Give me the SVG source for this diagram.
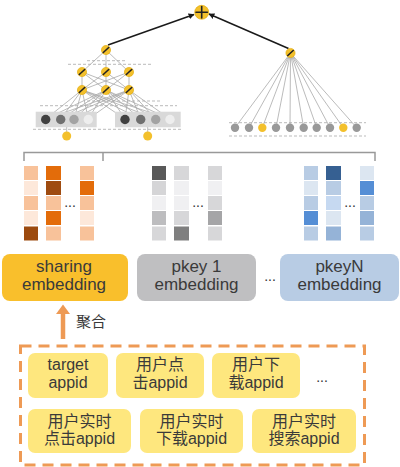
<svg xmlns="http://www.w3.org/2000/svg" width="400" height="467" viewBox="0 0 400 467">
<defs>
<marker id="ah" viewBox="0 0 10 10" refX="9" refY="5" markerWidth="6" markerHeight="6" orient="auto" markerUnits="userSpaceOnUse">
<path d="M0,0 L10,5 L0,10 z" fill="#1a1a1a"/>
</marker>
<style>
.wire{stroke:#aaaaaa;stroke-width:0.8;fill:none}
.dash{stroke:#bbbbbb;stroke-width:1;stroke-dasharray:3 2;fill:none}
.neu{fill:#f3c02c;stroke:#e0a800;stroke-width:0.6}
.sym{stroke:#222;stroke-width:1.6;stroke-linecap:round}
.lbl{font-family:"Liberation Sans","Noto Sans CJK SC",sans-serif;fill:#3a3a3a;text-anchor:middle}
.emb{font-size:17px}
.app{font-size:16px}
.ab{fill:#fee77e}
.dots{font-family:"Liberation Sans",sans-serif;font-size:14px;fill:#333;text-anchor:middle}
</style>
</defs>
<rect width="400" height="467" fill="#ffffff"/>

<g id="connectors">
<line x1="108" y1="45" x2="194" y2="14.5" stroke="#1a1a1a" stroke-width="1.5" marker-end="url(#ah)"/>
<line x1="288.5" y1="48.5" x2="209" y2="14" stroke="#1a1a1a" stroke-width="1.5" marker-end="url(#ah)"/>
<polyline points="24,161 24,152.5 375,152.5 375,161" stroke="#999" stroke-width="1.5" fill="none"/>
<line x1="103" y1="152.5" x2="103" y2="161" stroke="#999" stroke-width="1.5"/>
<line x1="63" y1="339" x2="63" y2="312" stroke="#ee9a55" stroke-width="4.5"/>
<path d="M56,314 L70,314 L63,304.5 z" fill="#ee9a55"/>
</g>

<g id="plus-node">
<circle cx="201.7" cy="12.3" r="7" class="neu"/>
<line x1="196" y1="12.3" x2="207.4" y2="12.3" class="sym"/>
<line x1="201.7" y1="6.6" x2="201.7" y2="18" class="sym"/>
</g>

<g id="dnn-tower">
<line class="dash" x1="87" y1="60.7" x2="127" y2="60.7"/>
<line class="dash" x1="68" y1="64.3" x2="153" y2="64.3"/>
<line class="dash" x1="87" y1="101" x2="160" y2="101"/>
<line class="dash" x1="40" y1="105.7" x2="177" y2="105.7"/>
<line class="dash" x1="33" y1="129.3" x2="182" y2="129.3"/>
<g class="wire">
<path d="M106,50 L82,72 M106,50 L106,72 M106,50 L129,72"/>
<path d="M82,72 L82,90 M82,72 L106,90 M82,72 L129,90 M106,72 L82,90 M106,72 L106,90 M106,72 L129,90 M129,72 L82,90 M129,72 L106,90 M129,72 L129,90"/>
<path d="M82,90 L45.7,119 M82,90 L60.7,119 M82,90 L74,119 M82,90 L88.3,119 M82,90 L125,119 M82,90 L140.7,119 M82,90 L155.7,119 M82,90 L170,119"/>
<path d="M106,90 L45.7,119 M106,90 L60.7,119 M106,90 L74,119 M106,90 L88.3,119 M106,90 L125,119 M106,90 L140.7,119 M106,90 L155.7,119 M106,90 L170,119"/>
<path d="M129,90 L45.7,119 M129,90 L60.7,119 M129,90 L74,119 M129,90 L88.3,119 M129,90 L125,119 M129,90 L140.7,119 M129,90 L155.7,119 M129,90 L170,119"/>
<path d="M66.7,127 L66.7,136 M147.7,127 L147.7,136"/>
</g>
<rect x="35.7" y="111.7" width="61" height="15.6" fill="#d9d9d9"/>
<rect x="115" y="111.7" width="65.7" height="15.6" fill="#d9d9d9"/>
<circle cx="45.7" cy="119.5" r="4.7" fill="#404040"/>
<circle cx="60.7" cy="119.5" r="4.7" fill="#6f6f6f"/>
<circle cx="74" cy="119.5" r="4.7" fill="#a3a3a3"/>
<circle cx="88.3" cy="119.5" r="4.7" fill="#eeeeee"/>
<circle cx="125" cy="119.5" r="4.7" fill="#404040"/>
<circle cx="140.7" cy="119.5" r="4.7" fill="#6f6f6f"/>
<circle cx="155.7" cy="119.5" r="4.7" fill="#a3a3a3"/>
<circle cx="170" cy="119.5" r="4.7" fill="#eeeeee"/>
<circle cx="66.7" cy="136" r="4.5" fill="#f3c02c"/>
<circle cx="147.7" cy="136" r="4.5" fill="#f3c02c"/>
<g>
<circle cx="106" cy="50" r="4.6" class="neu"/><line x1="103.3" y1="52.5" x2="108.7" y2="47.5" class="sym"/>
<circle cx="82" cy="72" r="4.6" class="neu"/><line x1="79.3" y1="74.5" x2="84.7" y2="69.5" class="sym"/>
<circle cx="106" cy="72" r="4.6" class="neu"/><line x1="103.3" y1="74.5" x2="108.7" y2="69.5" class="sym"/>
<circle cx="129" cy="72" r="4.6" class="neu"/><line x1="126.3" y1="74.5" x2="131.7" y2="69.5" class="sym"/>
<circle cx="82" cy="90" r="4.6" class="neu"/><line x1="79.3" y1="92.5" x2="84.7" y2="87.5" class="sym"/>
<circle cx="106" cy="90" r="4.6" class="neu"/><line x1="103.3" y1="92.5" x2="108.7" y2="87.5" class="sym"/>
<circle cx="129" cy="90" r="4.6" class="neu"/><line x1="126.3" y1="92.5" x2="131.7" y2="87.5" class="sym"/>
</g>
</g>

<g id="lr-tower">
<line class="dash" x1="229" y1="122.7" x2="366" y2="122.7"/>
<line class="dash" x1="229" y1="136" x2="366" y2="136"/>
<g class="wire">
<path d="M290.5,53 L235,127.7 M290.5,53 L249,127.7 M290.5,53 L262.3,127.7 M290.5,53 L276,127.7 M290.5,53 L290,127.7 M290.5,53 L303.7,127.7 M290.5,53 L316.7,127.7 M290.5,53 L330,127.7 M290.5,53 L343.3,127.7 M290.5,53 L356.7,127.7"/>
</g>
<circle cx="235" cy="127.7" r="4.2" fill="#999"/>
<circle cx="249" cy="127.7" r="4.2" fill="#999"/>
<circle cx="262.3" cy="127.7" r="4.2" fill="#f3c02c"/>
<circle cx="276" cy="127.7" r="4.2" fill="#999"/>
<circle cx="290" cy="127.7" r="4.2" fill="#999"/>
<circle cx="303.7" cy="127.7" r="4.2" fill="#999"/>
<circle cx="316.7" cy="127.7" r="4.2" fill="#999"/>
<circle cx="330" cy="127.7" r="4.2" fill="#999"/>
<circle cx="343.3" cy="127.7" r="4.2" fill="#f3c02c"/>
<circle cx="356.7" cy="127.7" r="4.2" fill="#999"/>
<circle cx="290.5" cy="53" r="4.6" class="neu"/><line x1="287.8" y1="55.5" x2="293.2" y2="50.5" class="sym"/>
</g>

<g id="sharing-vectors">
<rect x="24" y="166" width="14" height="14" fill="#f8c29a"/>
<rect x="24" y="181" width="14" height="14" fill="#fde8da"/>
<rect x="24" y="196" width="14" height="14" fill="#f8c29a"/>
<rect x="24" y="211" width="14" height="14" fill="#fde8da"/>
<rect x="24" y="226.5" width="14" height="14" fill="#9c4a0e"/>
<rect x="46" y="166" width="15" height="14" fill="#e36c0a"/>
<rect x="46" y="181" width="15" height="14" fill="#9f4b10"/>
<rect x="46" y="196" width="15" height="14" fill="#f8c29a"/>
<rect x="46" y="211" width="15" height="14" fill="#e36c0a"/>
<rect x="46" y="226.5" width="15" height="14" fill="#f8c29a"/>
<rect x="80" y="166" width="14" height="14" fill="#f8c29a"/>
<rect x="80" y="181" width="14" height="14" fill="#e36c0a"/>
<rect x="80" y="196" width="14" height="14" fill="#f8c29a"/>
<rect x="80" y="211" width="14" height="14" fill="#fde8da"/>
<rect x="80" y="226.5" width="14" height="14" fill="#f8c29a"/>
<text x="70" y="207" class="dots">...</text>
</g>

<g id="pkey1-vectors">
<rect x="152" y="166" width="14" height="14" fill="#595959"/>
<rect x="152" y="181" width="14" height="14" fill="#d5d5d7"/>
<rect x="152" y="196" width="14" height="14" fill="#f0f0f2"/>
<rect x="152" y="211" width="14" height="14" fill="#bdbdbf"/>
<rect x="152" y="226.5" width="14" height="14" fill="#d7d7d9"/>
<rect x="174" y="166" width="15" height="14" fill="#d7d7d9"/>
<rect x="174" y="181" width="15" height="14" fill="#f0f0f2"/>
<rect x="174" y="196" width="15" height="14" fill="#f0f0f2"/>
<rect x="174" y="211" width="15" height="14" fill="#d7d7d9"/>
<rect x="174" y="226.5" width="15" height="14" fill="#7f7f7f"/>
<rect x="208" y="166" width="14" height="14" fill="#d7d7d9"/>
<rect x="208" y="181" width="14" height="14" fill="#f0f0f2"/>
<rect x="208" y="196" width="14" height="14" fill="#d7d7d9"/>
<rect x="208" y="211" width="14" height="14" fill="#a5a5a7"/>
<rect x="208" y="226.5" width="14" height="14" fill="#d7d7d9"/>
<text x="198" y="207" class="dots">...</text>
</g>

<g id="pkeyN-vectors">
<rect x="304" y="166" width="14" height="14" fill="#b8cce4"/>
<rect x="304" y="181" width="14" height="14" fill="#dce6f1"/>
<rect x="304" y="196" width="14" height="14" fill="#b8cce4"/>
<rect x="304" y="211" width="14" height="14" fill="#558ed5"/>
<rect x="304" y="226.5" width="14" height="14" fill="#b8cce4"/>
<rect x="326" y="166" width="15" height="14" fill="#366092"/>
<rect x="326" y="181" width="15" height="14" fill="#b8cce4"/>
<rect x="326" y="196" width="15" height="14" fill="#c6d9f1"/>
<rect x="326" y="211" width="15" height="14" fill="#dce6f1"/>
<rect x="326" y="226.5" width="15" height="14" fill="#95b3d7"/>
<rect x="360" y="166" width="14" height="14" fill="#dce6f1"/>
<rect x="360" y="181" width="14" height="14" fill="#558ed5"/>
<rect x="360" y="196" width="14" height="14" fill="#b8cce4"/>
<rect x="360" y="211" width="14" height="14" fill="#95b3d7"/>
<rect x="360" y="226.5" width="14" height="14" fill="#b8cce4"/>
<text x="350" y="207" class="dots">...</text>
</g>

<g id="sharing-embedding">
<rect x="2" y="254" width="126" height="47" rx="8" fill="#f9bf2c"/>
<text x="64" y="272" class="lbl emb">sharing</text>
<text x="64" y="290" class="lbl emb">embedding</text>
</g>
<g id="pkey1-embedding">
<rect x="137" y="254" width="119" height="47" rx="8" fill="#bfbfc1"/>
<text x="196.5" y="272" class="lbl emb">pkey 1</text>
<text x="196.5" y="290" class="lbl emb">embedding</text>
</g>
<text x="270" y="281" class="dots">...</text>
<g id="pkeyN-embedding">
<rect x="280" y="254" width="119" height="47" rx="8" fill="#b8cce4"/>
<text x="339.5" y="272" class="lbl emb">pkeyN</text>
<text x="339.5" y="290" class="lbl emb">embedding</text>
</g>

<text x="76" y="327" class="lbl" style="font-size:15px;text-anchor:start">聚合</text>

<g id="features">
<rect x="20.5" y="346" width="344" height="119" fill="none" stroke="#ee9a55" stroke-width="3" stroke-dasharray="11 7"/>
<g id="f-target">
<rect x="28" y="353" width="80" height="45" rx="7" class="ab"/>
<text x="68" y="370" class="lbl app">target</text>
<text x="68" y="387.5" class="lbl app">appid</text>
</g>
<g id="f-click">
<rect x="116" y="353" width="88" height="45" rx="7" class="ab"/>
<text x="160" y="370" class="lbl app">用户点</text>
<text x="160" y="387.5" class="lbl app">击appid</text>
</g>
<g id="f-download">
<rect x="212" y="353" width="88" height="45" rx="7" class="ab"/>
<text x="256" y="370" class="lbl app">用户下</text>
<text x="256" y="387.5" class="lbl app">载appid</text>
</g>
<text x="322" y="382" class="dots">...</text>
<g id="f-rt-click">
<rect x="28" y="409" width="103" height="44" rx="7" class="ab"/>
<text x="79.5" y="427" class="lbl app">用户实时</text>
<text x="79.5" y="444" class="lbl app">点击appid</text>
</g>
<g id="f-rt-download">
<rect x="140" y="409" width="103" height="44" rx="7" class="ab"/>
<text x="191.5" y="427" class="lbl app">用户实时</text>
<text x="191.5" y="444" class="lbl app">下载appid</text>
</g>
<g id="f-rt-search">
<rect x="252" y="409" width="104" height="44" rx="7" class="ab"/>
<text x="304" y="427" class="lbl app">用户实时</text>
<text x="304" y="444" class="lbl app">搜索appid</text>
</g>
</g>
</svg>
